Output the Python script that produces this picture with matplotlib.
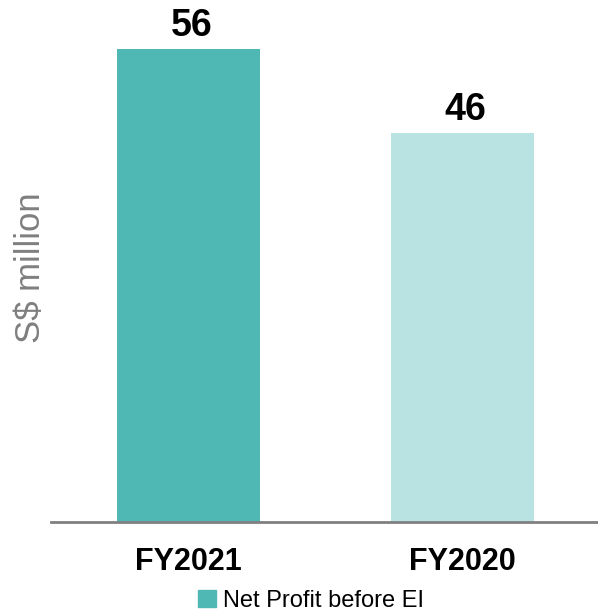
import matplotlib.pyplot as plt
from matplotlib.patches import Patch

plt.rcParams['font.family'] = ['Liberation Sans', 'DejaVu Sans']

years = ['FY2021', 'FY2020']
profit = [56, 46]
colors = ['#4fb8b5', '#b9e3e3']
legend_label = 'Net Profit before EI'

fig = plt.figure(figsize=(5.98, 6.13), dpi=100)
ax = fig.add_axes([51 / 598, 91 / 613, 547 / 598, 522 / 613])

x = list(range(len(years)))
bars = ax.bar(x, profit, width=0.522, color=colors)
for xi, v in zip(x, profit):
    ax.text(xi + 0.01, v + 0.6, str(v), ha='center', va='bottom',
            fontsize=27, fontweight='bold', color='black')

ax.set_xlim(-0.502, 1.494)
ax.set_ylim(0, 61.8)
ax.set_xticks(x)
ax.set_xticklabels(years, fontsize=22, fontweight='bold')
ax.tick_params(axis='x', length=0, pad=18)
ax.set_yticks([])
for s in ['top', 'right', 'left']:
    ax.spines[s].set_visible(False)
ax.spines['bottom'].set_color('#808080')
ax.spines['bottom'].set_linewidth(2)

fig.text(31 / 598, 1 - 268 / 613, 'S$ million', rotation=90, ha='center', va='center',
         fontsize=25, color='#7f7f7f')

fig.legend(handles=[Patch(color=colors[0], label=legend_label)],
           loc='center', bbox_to_anchor=(311 / 598, 1 - 601 / 613),
           frameon=False, fontsize=17, handlelength=0.75, handleheight=0.75,
           handletextpad=0.3, borderpad=0)

fig.savefig('out.png', dpi=100)
